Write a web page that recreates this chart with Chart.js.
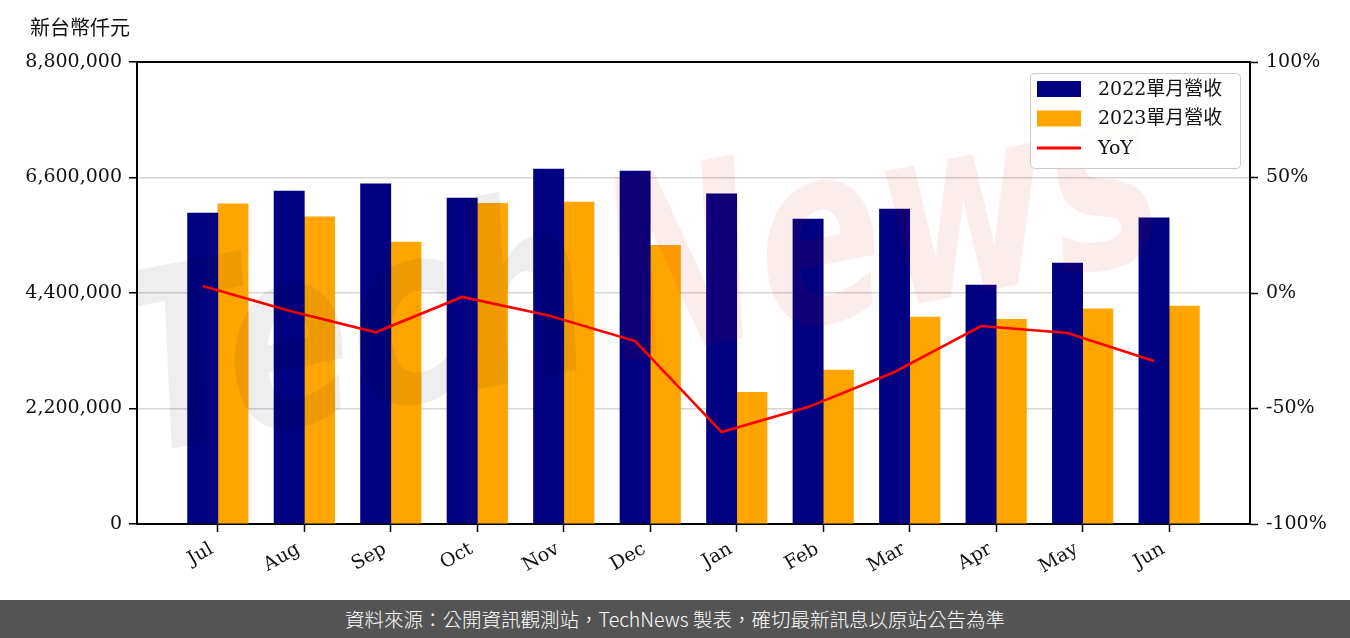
<!DOCTYPE html>
<html>
<head>
<meta charset="utf-8">
<script src="https://cdn.jsdelivr.net/npm/chart.js@4.4.0/dist/chart.umd.min.js"></script>
<style>
  html, body { margin: 0; padding: 0; background: #fff; }
  #wrap { position: relative; width: 1350px; height: 638px; overflow: hidden; }
  #chartBox { position: absolute; left: 0; top: 0; width: 1350px; height: 600px; }
  #unit { position: absolute; left: 30px; top: 15px; font: 20px "Noto Sans CJK TC", sans-serif; color: #111; line-height: 24px; }
  #footer { position: absolute; left: 0; top: 600px; width: 1350px; height: 38px; background: #545454; color: #fff;
            font-family: "Noto Sans CJK TC", sans-serif; font-size: 19.5px; font-weight: 300; line-height: 38px; text-align: center; }
</style>
</head>
<body>
<div id="wrap">
  <div id="chartBox"><canvas id="c"></canvas></div>
  <div id="unit">新台幣仟元</div>
  <div id="footer">資料來源：公開資訊觀測站，TechNews 製表，確切最新訊息以原站公告為準</div>
</div>
<script>
const months = ['Jul','Aug','Sep','Oct','Nov','Dec','Jan','Feb','Mar','Apr','May','Jun'];
const rev2022 = [5920000, 6340000, 6480000, 6210000, 6760000, 6720000, 6290000, 5810000, 6000000, 4550000, 4970000, 5830000];
const rev2023 = [6100000, 5850000, 5370000, 6110000, 6130000, 5310000, 2510000, 2930000, 3940000, 3900000, 4100000, 4150000];
const yoy = [3.0, -7.7, -17.0, -1.7, -9.7, -20.8, -60.2, -49.4, -34.2, -14.3, -17.3, -29.4];
const leftTicks = [0, 2200000, 4400000, 6600000, 8800000];
const rightTicks = [-100, -50, 0, 50, 100];
const seriesLabels = ['2022單月營收', '2023單月營收', 'YoY'];
const seriesColors = ['#000080', '#FFA500', '#FF0000'];
const barOffset = 0.175;

const FONT = '"DejaVu Serif", "Noto Sans CJK TC", serif';
const tickFont = { family: FONT, size: 19 };

const watermark = {
  id: 'watermark',
  afterDatasetsDraw(chart) {
    const ctx = chart.ctx;
    const a = chart.chartArea;
    ctx.save();
    ctx.beginPath();
    ctx.rect(a.left, a.top, a.right - a.left, a.bottom - a.top);
    ctx.clip();
    ctx.translate(140, 455);
    ctx.rotate(-11 * Math.PI / 180);
    ctx.scale(1, 1.35);
    ctx.font = 'italic bold 185px "DejaVu Sans"';
    ctx.textBaseline = 'alphabetic';
    ctx.fillStyle = 'rgba(0,0,0,0.065)';
    ctx.fillText('Tech', 0, 0);
    const w = ctx.measureText('Tech').width;
    ctx.fillStyle = 'rgba(210,0,0,0.07)';
    ctx.fillText('News', w + 20, 0);
    ctx.restore();
  }
};

const frameAndLegend = {
  id: 'frameAndLegend',
  afterDraw(chart) {
    const ctx = chart.ctx;
    const a = chart.chartArea;
    ctx.save();
    ctx.strokeStyle = '#000';
    ctx.lineWidth = 2;
    ctx.beginPath();
    ctx.moveTo(a.left - 1, a.top);
    ctx.lineTo(a.right + 1, a.top);
    ctx.stroke();

    const bw = 210, bh = 95;
    const bx = a.right - 10 - bw, by = a.top + 11;
    ctx.beginPath();
    if (ctx.roundRect) ctx.roundRect(bx + 0.5, by + 0.5, bw, bh, 4); else ctx.rect(bx + 0.5, by + 0.5, bw, bh);
    ctx.fillStyle = 'rgba(255,255,255,0.8)';
    ctx.fill();
    ctx.strokeStyle = '#cccccc';
    ctx.lineWidth = 1;
    ctx.stroke();
    const ds = chart.data.datasets;
    const rows = [by + 16, by + 45.5, by + 75];
    ctx.font = '19px ' + FONT;
    ctx.textBaseline = 'middle';
    ctx.textAlign = 'left';
    ds.forEach((d, i) => {
      const cy = rows[i];
      if (d.type === 'line') {
        ctx.strokeStyle = d.borderColor;
        ctx.lineWidth = 3;
        ctx.beginPath();
        ctx.moveTo(bx + 7, cy);
        ctx.lineTo(bx + 51, cy);
        ctx.stroke();
      } else {
        ctx.fillStyle = d.backgroundColor;
        ctx.fillRect(bx + 7, cy - 8, 44, 16);
      }
      ctx.fillStyle = '#111';
      ctx.fillText(d.label, bx + 68, cy + 1);
    });
    ctx.restore();
  }
};

const gridColor = (c) => {
  const v = c.tick ? c.tick.value : null;
  if (v === leftTicks[0] || v === leftTicks[leftTicks.length - 1]) return 'rgba(0,0,0,0)';
  return '#d6d6d6';
};

new Chart(document.getElementById('c'), {
  type: 'bar',
  data: {
    datasets: [
      {
        label: seriesLabels[0],
        data: months.map((m, i) => ({ x: i - barOffset, y: rev2022[i] })),
        backgroundColor: seriesColors[0],
        yAxisID: 'y', xAxisID: 'x',
        grouped: false, barPercentage: 1, categoryPercentage: 1,
        order: 2
      },
      {
        label: seriesLabels[1],
        data: months.map((m, i) => ({ x: i + barOffset, y: rev2023[i] })),
        backgroundColor: seriesColors[1],
        yAxisID: 'y', xAxisID: 'x',
        grouped: false, barPercentage: 1, categoryPercentage: 1,
        order: 2
      },
      {
        type: 'line',
        label: seriesLabels[2],
        data: months.map((m, i) => ({ x: i - barOffset, y: yoy[i] })),
        borderColor: seriesColors[2],
        backgroundColor: seriesColors[2],
        borderWidth: 2.6,
        pointRadius: 0,
        tension: 0,
        yAxisID: 'y1', xAxisID: 'x',
        order: 0
      }
    ]
  },
  options: {
    responsive: true,
    maintainAspectRatio: false,
    animation: false,
    layout: { padding: { top: 62, left: 0, right: 0, bottom: 0 } },
    plugins: { legend: { display: false }, tooltip: { enabled: false } },
    scales: {
      x: {
        type: 'linear',
        position: 'bottom',
        offset: false,
        min: -0.935,
        max: 11.935,
        afterBuildTicks: (axis) => { axis.ticks = months.map((m, i) => ({ value: i })); },
        afterFit: (s) => { s.height = 76; },
        ticks: {
          callback: (v) => months[Math.round(v)],
          font: tickFont,
          color: '#111',
          minRotation: 30,
          maxRotation: 30,
          autoSkip: false,
          padding: 6,
          labelOffset: -6
        },
        grid: { offset: false, drawOnChartArea: false, drawTicks: true, tickLength: 8, tickColor: '#000', tickWidth: 1.5 },
        border: { display: true, color: '#000', width: 2 }
      },
      y: {
        position: 'left',
        min: leftTicks[0],
        max: leftTicks[leftTicks.length - 1],
        afterBuildTicks: (axis) => { axis.ticks = leftTicks.map(v => ({ value: v })); },
        afterFit: (s) => { s.width = 137; },
        ticks: {
          callback: (v) => Number(v).toLocaleString('en-US'),
          font: tickFont,
          color: '#111',
          padding: 7
        },
        grid: { color: gridColor, lineWidth: 1.5, drawTicks: true, tickLength: 8, tickColor: '#000', tickWidth: 1.5 },
        border: { display: true, color: '#000', width: 2 }
      },
      y1: {
        position: 'right',
        min: rightTicks[0],
        max: rightTicks[rightTicks.length - 1],
        afterBuildTicks: (axis) => { axis.ticks = rightTicks.map(v => ({ value: v })); },
        afterFit: (s) => { s.width = 100; },
        ticks: {
          callback: (v) => v + '%',
          font: tickFont,
          color: '#111',
          padding: 8
        },
        grid: { drawOnChartArea: false, drawTicks: true, tickLength: 8, tickColor: '#000', tickWidth: 1.5 },
        border: { display: true, color: '#000', width: 2 }
      }
    }
  },
  plugins: [watermark, frameAndLegend]
});
</script>
</body>
</html>
